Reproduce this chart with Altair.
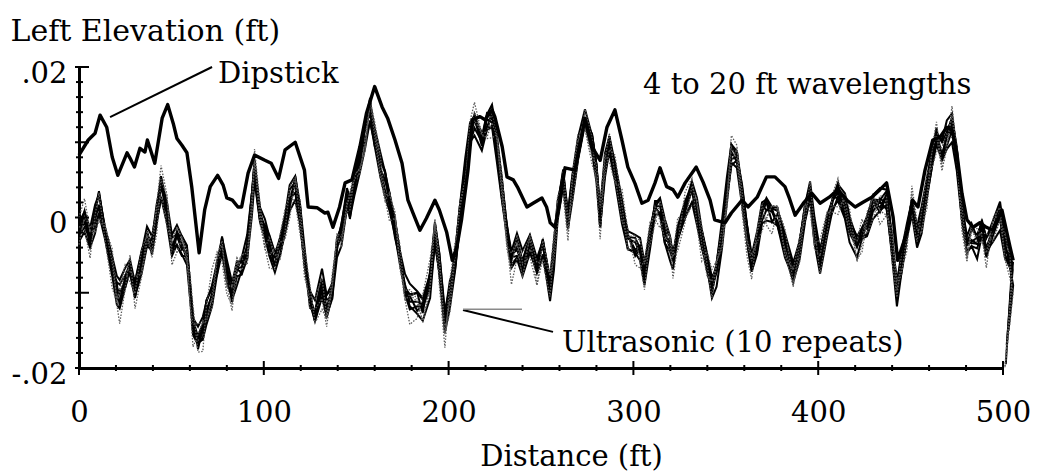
import altair as alt
import pandas as pd

FONT = "DejaVu Serif"

# ---- Dipstick profile: distance (ft) and elevation (thousandths of a ft) ----
DIP_DIST = [0, 5, 8.7, 11.4, 15, 18, 21, 26, 27.6, 30, 33, 35.7, 37, 41, 45, 48, 51, 53, 55.7, 58.4,
            61, 65, 68, 71, 75, 78, 80, 83, 86, 88, 91.5, 95, 100.6, 104, 108, 111.5, 117, 122, 124, 128.8,
            133, 134.7, 137.4, 141, 144, 147.7, 152, 155.6, 160, 164, 167, 171, 174.8, 178, 180.7, 184.5, 188, 192.6, 195, 199,
            202, 204.5, 207, 210.5, 213, 217, 219.7, 223.5, 225, 229, 231.6, 235, 237.6, 242.4, 245.7, 250.5, 253, 255, 257.6, 260,
            263, 268.4, 273.8, 277.6, 282, 285.7, 290, 293.8, 297, 300.9, 304.6, 308, 311.7, 314.4, 318, 321.4, 324, 328, 334, 337.7,
            341.5, 344, 349.6, 353, 358.8, 362, 367, 372, 376.6, 382, 384.5, 387.5, 392, 396.6, 401, 406, 410.7, 415.6, 420, 424,
            429, 433.4, 437, 440.5, 443, 448, 451, 454, 457.8, 462, 466, 469.6, 472.4, 475, 477.8, 480.5, 483.8, 487.5, 491, 494.6,
            499.4, 503.8, 505.5]
DIP_MIL = [8.3, 10.3, 11.2, 13.6, 12, 8, 5.6, 8.6, 7.9, 6.7, 9.2, 8.7, 10.3, 7.2, 13.2, 15, 12.5, 10.5, 9.6, 8.6,
           4.1, -4.7, 1, 4.1, 5.6, 4.3, 2.6, 2.3, 1.4, 1.4, 5.9, 8.3, 7.6, 7.2, 5.2, 9, 10, 6.3, 1.4, 1.3,
           0.6, 0.7, -1.3, 1.4, 4.6, 5, 9.4, 13.9, 17.4, 14.7, 13.2, 10.3, 7.2, 2.3, 0.6, -1.7, -0.1, 2.3, 1, -2,
           -5.7, -3.9, -0.3, 6.3, 13, 13.4, 13, 14.3, 13.4, 9.4, 5.4, 5, 3.9, 1.4, 1.9, 2.6, 1.4, -0.7, -1.3, 1.9,
           6.6, 6.3, 13.2, 9.4, 7.6, 12, 14.3, 10.3, 6.7, 4.5, 1.9, 2.3, 4.6, 6.6, 4.1, 3.7, 2.7, 4.6, 6.7, 4.7,
           2.3, -0.3, -0.7, 0.6, 2.3, 1.4, 2.7, 5.4, 5.4, 4.1, 2.5, 0.3, 1.9, 3.2, 1.9, 2.7, 3.7, 2.3, 1.4, 2,
           2.7, 3.7, 4.6, 0.1, -5.7, -2, 2.3, 1.4, 6.3, 10.3, 10.7, 12, 11.6, 8.6, 3.2, -0.3, -1.3, -0.7, -1.3, -1.7,
           1, -3.9, -5.7]

# ---- Ultrasonic profiles: common distances, mean trace, per-repeat deviations ----
ULTRA_DIST = [0, 3, 6, 8.7, 10.8, 14, 18, 20.5, 22, 25,
              27.6, 30.3, 34, 36.8, 39.5, 42, 44.4, 47.6, 50.3, 53,
              55.7, 58.4, 60, 61.7, 64.4, 67, 69, 72, 74.7, 77.4,
              80, 82.8, 85.5, 88, 91, 93.6, 95, 98, 100.6, 103,
              106, 108.8, 111.5, 114, 117, 119.6, 122, 125, 127.7, 131.5,
              134, 137, 139.6, 142, 145, 146.6, 149, 152, 154.8, 157.5,
              160, 163, 165.6, 168, 171, 173.7, 176.4, 179, 183, 186,
              190, 192.6, 195, 198, 200.7, 203.5, 206, 209, 211.6, 214,
              218, 220.8, 223.5, 226, 229, 231.6, 234, 237, 240, 244,
              247.8, 251, 254.9, 257, 259, 262, 264.6, 267, 270, 273.8,
              277.6, 280, 282, 284.6, 287, 290, 293.8, 297, 301, 303.6,
              306, 309, 311.7, 314.4, 317, 319.8, 321.4, 324, 328, 331.7,
              334.4, 337, 339.8, 342.5, 345, 348, 350.6, 353, 356, 358.8,
              361.5, 364, 366.9, 369.6, 372, 375, 378, 382, 386.5, 390,
              393, 395.6, 398, 401, 404.8, 408, 410.7, 414.5, 417, 421,
              423.7, 426.4, 429.6, 433.4, 437, 440, 442.6, 445.3, 448, 450.7,
              453.5, 456, 458.9, 461.6, 464, 467, 469.6, 472.4, 475, 477.8,
              480.5, 483, 486, 488.6, 491, 494.6, 498.4, 501, 503.8]
ULTRA_MEAN = [-2, -0.3, -3, -0.3, 1.9, -2, -6.6, -9.6, -10.5, -8.3,
              -6.6, -9.3, -5.7, -3, -3.9, 0.1, 4.1, 1, -3.9, -3,
              -3.9, -4.7, -9.3, -14.6, -16.3, -15.4, -12.8, -10, -6.6, -3.9,
              -7.4, -10, -7.4, -6.6, -3.9, 2.3, 6.3, 0.1, -2, -3.9,
              -5.7, -3.9, -1.3, 2.3, 4.1, 0.6, -5.7, -11, -12.8, -9,
              -11.9, -10, -3.9, -2, 2.3, 0.6, 4.1, 7.6, 11.2, 14.3,
              10.3, 6.7, 4.6, 2.3, -1.3, -5.7, -9.3, -11, -11.4, -11.9,
              -8.3, -2, -6.6, -13.7, -10, -5.7, -0.3, 5.9, 11.2, 12.5,
              9.9, 12.5, 13.4, 9.4, 3.2, -2, -5.7, -3.9, -6.6, -3.9,
              -6.6, -3.9, -9.5, -5, 1, 5, -0.3, 4.1, 8.6, 13,
              9.9, 6.3, -0.3, 6.7, 9.4, 6.3, 1, -3, -3.9, -4.7,
              -7.4, -3, 1, 1.4, -2, -3.9, -5.7, -2, 0.6, 3.2,
              0.6, -3, -5.7, -9.3, -7.4, -2, 3.2, 8.1, 7.6, 3.2,
              -2, -6.6, -3.9, 0.6, 1.4, 0.6, -0.3, -3.9, -7.4, -3.9,
              0.6, 3.2, -2, -5.7, -1.3, 1.9, 3.2, 1.4, -1.3, -3.9,
              -2, -1.3, 1.4, 1.9, 2.3, -3.9, -10, -5.7, -2, 1.4,
              -2.6, -0.3, 4.1, 7.6, 10.3, 8.6, 10.7, 12, 7.6, 0.6,
              -3.9, -2.6, -3.9, -1.3, -3.9, -2, 0.1, -3.9, -5.7]

# deviation of each repeat from the mean trace, in units of 0.0002 ft
REPEAT_1 = [5, 3, -4, 6, 8, 2, -3, 4, -6, 2, 3, -5, 4, 6, -2, 5, 7, 3, -4, 6, 2, -5, 3, 8, -6, 4, 9, 3, -5, 7,
            4, -6, 3, 5, -8, 4, 6, -3, 5, 2, -4, 6, 3, -5, 7, 4, -2, 6, -5, 3, 5, -4, 6, 3, -5, 7, 2, -3, 6, 8,
            -4, 5, 7, -3, 4, 6, -5, 3, 7, -4, 6, 3, -5, 4, 8, -3, 5, 6, -4, 3, 7, -5, 4, 6, -3, 5, 2, -6, 4, 7,
            -3, 5, 6, -4, 3, 7, -5, 4, 2, -3, 6, 4, -5, 3, 7, -2, 5, 4, -6, 3, 5, -3, 6, 4, -5, 3, 7, -4, 5, 2,
            -4, 6, 3, -5, 7, 4, -3, 5, 6, -2, 4, 7, -3, 5, 3, -6, 4, 6, -3, 5, 3, -4, 6, 5, -3, 4, 7, -5, 3, 6,
            -2, 5, 4, -6, 3, 7, -4, 5, 3, -5, 6, 4, -3, 5, 8, -4, 3, 6, -5, 4, 5, -3, 6, 4, -5, 3, 7, -4, 5]
REPEAT_2 = [-6, -8, -5, -9, -7, -4, -6, -10, -8, -5, -3, -6, -8, -4, -2, -5, -7, -9, -6, -3,
            -5, -8, -6, -3, -2, -4, -7, -9, -5, -4, -6, -3, -2, -5, -8, -10, -7, -4, -3, -6,
            -8, -5, -4, -7, -9, -6, -3, -2, -5, -8, -6, -4, -7, -9, -5, -3, -6, -8, -10, -7,
            -4, -6, -9, -7, -5, -3, -2, -4, -7, -9, -12, -6, -4, -8, -10, -7, -5, -3, -6, -8,
            -5, -4, -7, -9, -6, -3, -5, -8, -6, -4, -3, -5, -8, -10, -7, -4, -6, -9, -5, -3,
            -6, -8, -5, -3, -4, -7, -9, -6, -4, -5, -8, -6, -3, -5, -7, -9, -6, -4, -3, -6,
            -8, -5, -4, -7, -9, -10, -6, -4, -5, -8, -6, -3, -5, -7, -9, -6, -4, -3, -6, -8,
            -5, -4, -7, -9, -6, -3, -5, -8, -10, -7, -4, -6, -8, -5, -3, -7, -9, -6, -4, -5,
            -7, -9, -6, -4, -3, -5, -8, -10, -7, -5, -4, -6, -8, -5, -3, -6, -9, -7, -5]
REPEAT_3 = [7, 5, 8, 10, 6, 4, 7, 9, 11, 8, 5, 3, 6, 9, 7, 4, 2, 5, 8, 10, 7, 5, 4, 6, 9, 11, 8, 5, 3, 6,
            9, 7, 4, 6, 8, 5, 3, 6, 9, 7, 4, 6, 8, 10, 7, 5, 3, 6, 9, 11, 8, 6, 4, 5, 8, 10, 7, 4, 3, 5,
            8, 10, 7, 5, 4, 6, 9, 11, 8, 6, 4, 7, 9, 6, 4, 5, 8, 10, 7, 5, 3, 6, 8, 9, 7, 4, 6, 9, 11, 8,
            6, 4, 7, 9, 6, 3, 5, 8, 10, 7, 5, 4, 6, 9, 7, 5, 3, 6, 8, 10, 7, 5, 4, 6, 9, 7, 4, 3, 6, 8,
            10, 7, 5, 4, 6, 9, 11, 8, 6, 4, 5, 8, 10, 7, 5, 3, 6, 9, 7, 4, 6, 8, 10, 7, 5, 4, 6, 9, 7, 5,
            3, 6, 8, 10, 7, 4, 5, 8, 6, 4, 7, 9, 6, 4, 5, 8, 11, 9, 6, 5, 7, 9, 6, 4, 6, 8, 10, 7, 5]
REPEAT_4 = [-3, 4, -2, 5, -4, 2, 6, -3, 4, -5, 2, -4, 3, -2, 5, -3, 2, 4, -5, 3, -2, 4, -3, 5, 2, -4, 3, -2, 4, -3,
            5, -2, 3, -4, 2, 5, -3, 4, -2, 3, -4, 2, 5, -3, 3, -2, 4, -5, 2, 4, -3, 5, -2, 3, 4, -4, 2, -3, 5, -2,
            3, -4, 2, 5, -3, 4, -2, 3, -5, 2, 4, -3, 5, -2, 3, -4, 2, 5, -3, 4, -2, 3, -4, 2, 5, -3, 4, -2, 3, -4,
            2, 5, -3, 4, -2, 3, -5, 2, 4, -3, 3, -2, 4, -3, 5, 2, -4, 3, -2, 5, -3, 4, 2, -5, 3, -2, 4, -3, 2, 5,
            -4, 3, -2, 5, 2, -3, 4, -2, 3, -4, 2, 4, -3, 5, -2, 3, -4, 2, 5, -3, 4, -2, 3, -5, 2, 4, -3, 5, -2, 3,
            -4, 2, 5, -3, 4, -2, 3, -5, 2, 4, -3, 5, -2, 3, 4, -4, 2, -3, 5, -2, 3, -4, 2, 5, -3, 4, -2, 3, -4]
REPEAT_5 = [10, 14, 6, -8, -12, 4, 12, -10, -18, -6, 8, -14, -10, 6, -4, 8, 14, 10, -12, -8,
            4, -6, 10, 14, -8, -12, 6, 16, 10, -10, -14, -8, 10, 6, -12, -6, 14, 8, -10, -14,
            -6, 8, 12, 4, -10, -14, 8, 10, -6, -16, -8, 12, 6, -10, -4, 14, 8, -6, -12, 6,
            12, 8, -10, -14, 6, 10, -8, -16, -10, 8, 14, 6, -12, -18, 8, 12, -6, -10, 8, 14,
            6, -10, -14, 8, 12, -6, -16, -8, 10, 6, -12, -8, 10, 14, 6, -10, -14, 8, 12, -6,
            -14, -6, 12, 8, -10, -8, 14, 6, -12, -10, 8, 12, -6, -14, 10, 6, -12, -8, 14, 10,
            -8, -14, 6, 12, 8, -10, -6, 14, 10, -12, -16, -8, 10, 6, -12, -14, 8, 12, -6, -10,
            6, -12, -8, 14, 10, -6, -14, 8, 12, -10, -8, 10, 6, -14, -10, 12, 8, -6, -12, 14,
            10, -6, -14, 8, 12, -10, -8, 14, 6, -12, -10, 8, 12, -6, -14, 10, 6, -8, -12]
REPEAT_6 = [-2, -5, 1, -4, -7, 0, 3, -6, -3, 1, -4, -7, -1, 2, -5, -3, -8, -2, 1, -4,
            -6, -2, 0, -5, -3, 2, -4, -7, -1, -3, 1, -5, -8, -2, -4, 0, -6, -3, 2, -5,
            -3, -6, -1, 1, -4, -7, -2, 0, -5, -3, -7, -2, 1, -4, -6, -1, -3, 2, -5, -8,
            -2, 0, -5, -3, -7, 1, -4, -6, -2, 0, -5, -8, -3, 1, -2, -6, -4, 0, -7, -3,
            1, -4, -6, -2, -5, 0, -3, -7, -1, 2, -4, -7, -2, 0, -5, -3, 1, -6, -4, -1,
            -3, 1, -5, -7, -2, -4, 0, -6, -3, 2, -5, -2, 1, -4, -7, -3, 0, -5, -2, -6,
            -1, -4, -7, -2, 1, -5, -3, -6, 0, -4, -6, -3, 0, -5, -2, 1, -4, -7, -3, -1,
            -4, -1, -6, -3, 2, -5, -2, -7, -4, 0, -2, -5, -3, 1, -6, -4, -1, -7, -3, 0,
            -5, -2, -7, -4, 1, -3, -6, -2, 0, -5, -3, -6, -1, -4, -7, -2, 1, -5, -3]
REPEAT_7 = [3, 6, 1, 4, 7, 2, -1, 5, 8, 3, 0, 4, 7, 2, 5, 8, 3, 1, 6, 4, 7, 2, 5, 0, 3, 6, 9, 4, 1, 5,
            2, 6, 8, 3, 0, 5, 7, 2, 4, 8, 5, 1, 4, 7, 3, 6, 9, 2, 0, 4, 8, 3, 1, 6, 4, 7, 2, 5, 9, 3,
            1, 5, 8, 2, 6, 3, 0, 4, 7, 5, 2, 6, 9, 3, 1, 5, 8, 4, 2, 6, 4, 7, 2, 5, 8, 3, 0, 6, 4, 7,
            3, 1, 5, 8, 2, 6, 4, 7, 3, 0, 6, 3, 8, 4, 1, 5, 7, 2, 6, 3, 4, 8, 2, 5, 3, 7, 1, 4, 8, 5,
            2, 6, 4, 7, 3, 0, 5, 8, 2, 6, 5, 1, 7, 3, 6, 4, 8, 2, 5, 3, 7, 4, 2, 6, 8, 3, 5, 1, 4, 7,
            3, 7, 5, 2, 6, 4, 8, 3, 1, 5, 6, 2, 5, 8, 4, 7, 3, 6, 9, 4, 2, 5, 8, 3, 6, 4, 1, 5, 7]
REPEAT_8 = [-8, 2, 9, -4, -10, 6, 3, -7, 5, 10, -3, 7, -9, -2, 8, 4, -6, -11, 3, 9,
            6, -4, -10, 2, 11, 7, -5, -3, 8, 4, -9, 5, 10, -2, -7, 3, 8, -5, -10, 6,
            4, -8, -3, 9, 6, -5, -11, 2, 10, 5, -6, 3, 8, -7, -2, 10, 5, -9, -4, 7,
            9, -3, -8, 4, 10, -6, -2, 7, 3, -10, -4, 8, 5, -9, -3, 6, 11, -5, -8, 2,
            7, -6, 3, 10, -4, -9, 5, 2, -7, 8, 3, -10, -5, 6, 9, -3, -8, 4, 7, -6,
            -9, 4, 8, -5, -2, 10, 3, -7, 5, 9, 6, -3, -9, 4, 8, -6, 2, 10, -4, -8,
            5, 9, -2, -7, 6, 3, -10, -4, 8, 2, -7, 4, 10, -3, -8, 5, 9, -6, 2, 7,
            -5, 8, 3, -9, -4, 7, 10, -2, -6, 4, 9, -4, -8, 5, 2, -10, -3, 7, 4, -6,
            -3, 6, 9, -5, -8, 4, 2, -7, 10, 5, -8, 3, 7, -4, 9, -6, -2, 8, 4]
REPEAT_9 = [1, -2, 2, 0, -1, 3, -2, 1, 2, -1, 0, 2, -1, -3, 1, 2, 0, -2, 1, 3, -1, 0, 2, -2, 1, 3, -1, 0, -2, 2,
            1, -1, 3, 0, -2, 1, 2, -1, 0, -3, 2, 0, -2, 1, 3, -1, 0, 2, -2, 1, -1, 3, 1, -2, 0, 2, -1, 1, 3, -2,
            0, -1, 2, 1, -3, 0, 2, -1, 1, 2, -2, 1, 3, 0, -1, 2, -2, 1, 0, 3, 1, -2, 0, 2, 1, -1, 3, 0, -2, 1,
            2, 1, -1, 0, 3, -2, 1, 2, -1, 0, -1, 2, 1, -3, 0, 2, -1, 1, 3, 0, 0, -2, 2, 1, -1, 3, 0, -2, 1, 2,
            3, 0, -1, 2, 1, -2, 0, 3, -1, 1, 1, 2, -2, 0, 3, 1, -1, 2, 0, -2, -2, 1, 3, -1, 0, 2, 1, -3, 2, 0,
            2, -1, 0, 3, -2, 1, 2, 0, -1, 3, 0, 3, -2, 1, 2, -1, 0, 2, 1, -2, 1, -2, 2, 0, -1, 3, -2, 1, 0]
REPEAT_10 = [4, -6, -12, 3, 7, -4, -14, -8, 2, 6, -10, -4, 8, 3, -7, -12, 5, 9, -2, -8,
             6, 2, -9, -13, 4, 8, -3, -10, 5, 1, -7, -12, 3, 8, -4, -9, 6, 2, -11, -5,
             7, 3, -8, -12, 5, 9, -4, -6, 3, -9, -13, 4, 9, -3, -8, 2, 7, -5, -11, 6,
             3, -7, -12, 5, 8, -3, -9, 4, 1, -10, -6, 9, 4, -8, -13, 3, 7, -5, -2, 8,
             5, -9, -4, 7, 2, -11, -6, 8, 3, -7, -12, 4, 9, -3, -8, 6, 1, -10, -5, 7,
             3, -8, -13, 5, 9, -4, -7, 2, 8, -6, -11, 6, 2, -9, -4, 8, 3, -12, -6, 5,
             9, -3, -10, 4, 7, -8, -2, 6, 1, -11, -5, 8, 3, -12, -7, 5, 9, -4, -9, 2,
             7, -6, -11, 3, 8, -2, -9, 5, 1, -8, -13, 4, 8, -5, -10, 6, 2, -7, -3, 9,
             5, -9, -4, 7, 3, -12, -6, 8, 2, -8, -6, 7, 3, -10, -4, 8, 2, -9, -5]
REPEATS = [REPEAT_1, REPEAT_2, REPEAT_3, REPEAT_4, REPEAT_5,
           REPEAT_6, REPEAT_7, REPEAT_8, REPEAT_9, REPEAT_10]
DOTTED_REPEATS = [5, 8, 10]

# run-out at the end of each ultrasonic record (ft, thousandths of a ft)
END_A_DIST = [505, 505.5, 504.5, 505, 505.5, 504.8, 505.2, 504.6, 505.4, 505]
END_A_MIL = [-7, -9, -8, -6, -10, -8, -7, -9, -6, -8]
END_B_DIST = [504, 503, 501.5, 504.5, 501, 503.5, 502, 501.5, 505, 501]
END_B_MIL = [-11, -15, -19.5, -8, -20, -13, -17, -19, -7, -20]

X_MAJOR = [0, 100, 200, 300, 400, 500]
X_MINOR = [v for v in range(20, 500, 20) if v % 100 != 0]
Y_MAJOR = [-0.02, -0.01, 0, 0.01, 0.02]
Y_MINOR = [k / 1000 for k in range(-18, 19, 2) if k % 10 != 0]
Y_LABELED = [-0.02, 0, 0.02]

# ---- tables ----
rows = []
for r, dev in enumerate(REPEATS):
    pts = [(d, m + v / 5) for d, m, v in zip(ULTRA_DIST, ULTRA_MEAN, dev)]
    pts.append((END_A_DIST[r], END_A_MIL[r]))
    pts.append((END_B_DIST[r], END_B_MIL[r]))
    style = "dotted" if (r + 1) in DOTTED_REPEATS else "solid"
    for i, (d, m) in enumerate(pts):
        rows.append({"repeat": r + 1, "seq": i, "dist": d, "elev": m / 1000, "style": style})
ultra = pd.DataFrame(rows)
dip = pd.DataFrame({"dist": DIP_DIST, "elev": [m / 1000 for m in DIP_MIL]})

notes = pd.DataFrame({
    "label": ["Dipstick", "4 to 20 ft wavelengths", "Ultrasonic (10 repeats)"],
    "dist": [75.2, 305.2, 261.4],
    "elev": [0.0179, 0.01645, -0.0179],
})
leaders = pd.DataFrame({
    "dist": [16.8, 207.8],
    "elev": [0.01335, -0.0123],
    "dist2": [72, 256.5],
    "elev2": [0.020, -0.0152],
})
guide = pd.DataFrame({"dist": [207.8], "dist2": [239.7], "elev": [-0.0122]})

xscale = alt.Scale(domain=[0, 500], nice=False, zero=False)
yscale = alt.Scale(domain=[-0.02, 0.02], nice=False, zero=False)

x_axis = alt.Axis(
    values=X_MAJOR, format="d", ticks=False, tickSize=0, grid=False,
    domainColor="black", domainWidth=3,
    labelFont=FONT, labelFontSize=29, labelColor="black", labelPadding=30,
    labelFlush=False, labelOverlap=False,
    title="Distance (ft)", titleFont=FONT, titleFontSize=29, titleFontWeight="normal",
    titleColor="black", titleX=492, titleY=97, titleAlign="center", titleBaseline="alphabetic",
)
y_axis = alt.Axis(
    values=Y_LABELED, ticks=False, tickSize=0, grid=False,
    domainColor="black", domainWidth=3,
    labelExpr="datum.value == 0 ? '0' : (datum.value < 0 ? '-' : '') + replace(format(abs(datum.value), '.2f'), '0.', '.')",
    labelFont=FONT, labelFontSize=29, labelColor="black", labelPadding=12,
    labelBaseline="middle", labelOffset=6, labelFlush=False, labelOverlap=False,
    title="Left Elevation (ft)", titleFont=FONT, titleFontSize=30, titleFontWeight="normal",
    titleColor="black", titleAngle=0, titleAlign="left", titleBaseline="alphabetic",
    titleX=-69, titleY=-27,
)


def X(field="dist"):
    return alt.X(f"{field}:Q", scale=xscale, axis=x_axis)


def Y(field="elev"):
    return alt.Y(f"{field}:Q", scale=yscale, axis=y_axis)


solid = alt.Chart(ultra).transform_filter("datum.style == 'solid'").mark_line(
    color="black", strokeWidth=2
).encode(x=X(), y=Y(), detail="repeat:N", order="seq:Q")

dotted = alt.Chart(ultra).transform_filter("datum.style == 'dotted'").mark_line(
    color="#5a5a5a", strokeWidth=1.3, strokeDash=[1.5, 1.5]
).encode(x=X(), y=Y(), detail="repeat:N", order="seq:Q")

dipstick = alt.Chart(dip).mark_line(color="black", strokeWidth=3.4, strokeJoin="round").encode(
    x=X(), y=Y()
)

xt_major = alt.Chart(pd.DataFrame({"dist": X_MAJOR})).mark_rule(color="black", strokeWidth=2).encode(
    x=X(), y=alt.value(294), y2=alt.value(308)
)
xt_minor = alt.Chart(pd.DataFrame({"dist": X_MINOR})).mark_rule(color="black", strokeWidth=2).encode(
    x=X(), y=alt.value(298), y2=alt.value(304)
)
yt_major = alt.Chart(pd.DataFrame({"elev": Y_MAJOR})).mark_rule(color="black", strokeWidth=2).encode(
    y=Y(), x=alt.value(-4), x2=alt.value(10)
)
yt_minor = alt.Chart(pd.DataFrame({"elev": Y_MINOR})).mark_rule(color="black", strokeWidth=2).encode(
    y=Y(), x=alt.value(-3), x2=alt.value(4)
)

leader_lines = alt.Chart(leaders).mark_rule(color="black", strokeWidth=2).encode(
    x=X(), y=Y(), x2="dist2:Q", y2="elev2:Q"
)
guide_line = alt.Chart(guide).mark_rule(color="#8a8a8a", strokeWidth=1.5).encode(
    x=X(), x2="dist2:Q", y=Y()
)
labels = alt.Chart(notes).mark_text(
    align="left", baseline="alphabetic", font=FONT, fontSize=29, color="black"
).encode(x=X(), y=Y(), text="label:N")

chart = alt.layer(
    solid, dotted, dipstick, xt_major, xt_minor, yt_major, yt_minor,
    leader_lines, guide_line, labels,
).properties(
    width=924, height=301,
    autosize=alt.AutoSizeParams(type="none"),
    padding={"left": 79, "top": 67, "right": 35, "bottom": 108},
    background="white",
).configure_view(stroke=None)

chart.save("out.html", embed_options={"renderer": "svg", "actions": False})
